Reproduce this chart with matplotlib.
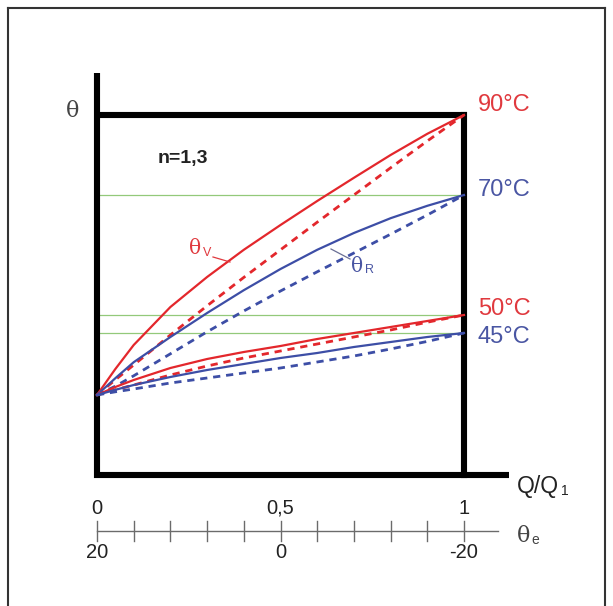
import matplotlib
matplotlib.use("Agg")
import matplotlib.pyplot as plt
from matplotlib.lines import Line2D

# ---------------- data ----------------
# relative heat load Q/Q1 at which the curves were read
q = [0, 0.05, 0.1, 0.2, 0.3, 0.4, 0.5, 0.6, 0.7, 0.8, 0.9, 1.0]
# temperatures on the drawn theta scale
theta_v90_n13 = [20, 26.5, 32.5, 42, 49.5, 56.3, 62.5, 68.5, 74.3, 80, 85.3, 90]
theta_v90_n1 = [20, 23.8, 27.5, 35, 42.3, 49.4, 56.3, 63.2, 70, 76.8, 83.5, 90]
theta_r70_n13 = [20, 24.2, 28.2, 34.5, 40.5, 46.2, 51.5, 56.3, 60.5, 64.2, 67.3, 70]
theta_r70_n1 = [20, 22.2, 24.8, 30.3, 35.8, 41, 46, 50.8, 55.5, 60.2, 65, 70]
theta_v50_n13 = [20, 22, 23.75, 26.75, 29, 30.75, 32.25, 34, 35.5, 37, 38.5, 40]
theta_v50_n1 = [20, 21.3, 22.5, 25, 27.25, 29.25, 31, 32.75, 34.5, 36.25, 38.2, 40]
theta_r45_n13 = [20, 21.3, 22.5, 24.5, 26.25, 27.75, 29.25, 30.5, 32, 33.25, 34.5, 35.5]
theta_r45_n1 = [20, 20.8, 21.5, 23, 24.25, 25.5, 26.75, 28.25, 29.75, 31.5, 33.4, 35.5]

# design levels (positions on the drawn scale) and their labels
level_pos = [90, 70, 40, 35.5]
level_labels = ["90°C", "70°C", "50°C", "45°C"]
green_levels = [70, 40, 35.5]

# bottom scales
q_ticks = [0, 0.5, 1]
q_tick_labels = ["0", "0,5", "1"]
te_tick_labels = ["20", "0", "-20"]
minor_ticks = [i / 10 for i in range(11)]

# ---------------- styling ----------------
RED = "#e3272c"
BLUE = "#3d4ea6"
RED_T = "#e0393e"
BLUE_T = "#4a56a3"
GREEN = "#93c97a"
SANS = ["Liberation Sans", "DejaVu Sans"]
SERIF = ["DejaVu Serif"]

W, H = 613, 606
fig = plt.figure(figsize=(W / 100, H / 100), dpi=100)
fig.patch.set_facecolor("white")

X0, X1 = 97, 464          # pixel x of Q=0 and Q=1
YB, YT = 475, 115         # pixel y of theta=0 and theta=90
ax = fig.add_axes([X0 / W, 1 - YB / H, (X1 - X0) / W, (YB - YT) / H])
ax.set_xlim(0, 1)
ax.set_ylim(0, 90)
ax.axis("off")


def qx(px):
    return (px - X0) / (X1 - X0)


def ty(py):
    return (YB - py) * 90 / (YB - YT)


def ftext(px, py, s, **kw):
    fig.text(px / W, 1 - py / H, s, **kw)


# outer frame of the picture
for xs, ysx in [([8, 8], [8, 606]), ([8, 605], [8, 8]), ([605, 605], [8, 606])]:
    fig.add_artist(Line2D([v / W for v in xs], [1 - v / H for v in ysx],
                          transform=fig.transFigure, color="#333333", lw=1.5))

# green reference lines
for lv in green_levels:
    ax.plot([0, 1], [lv, lv], color=GREEN, lw=0.9, zorder=2)

# curves
LW = 1.6
LWD = 2.0
DASH = (2.6, 2.1)
ax.plot(q, theta_v90_n13, color=RED, lw=LW, zorder=4, clip_on=False)
ax.plot(q, theta_v90_n1, color=RED, lw=LWD, dashes=DASH, zorder=4, clip_on=False)
ax.plot(q, theta_r70_n13, color=BLUE, lw=LW, zorder=4, clip_on=False)
ax.plot(q, theta_r70_n1, color=BLUE, lw=LWD, dashes=DASH, zorder=4, clip_on=False)
ax.plot(q, theta_v50_n13, color=RED, lw=LW, zorder=4, clip_on=False)
ax.plot(q, theta_v50_n1, color=RED, lw=LWD, dashes=DASH, zorder=4, clip_on=False)
ax.plot(q, theta_r45_n13, color=BLUE, lw=LW, zorder=4, clip_on=False)
ax.plot(q, theta_r45_n1, color=BLUE, lw=LWD, dashes=DASH, zorder=4, clip_on=False)

# thick black frame / axes
TW = 4.4
ax.plot([0, 0], [ty(478), ty(73)], color="black", lw=TW, solid_capstyle="butt",
        zorder=3, clip_on=False)
ax.plot([qx(94), qx(509)], [0, 0], color="black", lw=TW, solid_capstyle="butt",
        zorder=3, clip_on=False)
ax.plot([qx(94), qx(467)], [90, 90], color="black", lw=TW, solid_capstyle="butt",
        zorder=3, clip_on=False)
ax.plot([1, 1], [0, 90], color="black", lw=TW, solid_capstyle="projecting",
        zorder=3, clip_on=False)

# theta_e scale below
ys = ty(531)
ax.plot([0, qx(498)], [ys, ys], color="#6b6b6b", lw=1.0, clip_on=False)
for t in minor_ticks:
    ax.plot([t, t], [ty(521), ty(541)], color="#6b6b6b", lw=1.0, clip_on=False)
for t, lab in zip(q_ticks, q_tick_labels):
    ax.text(t, ty(508), lab, ha="center", va="center", fontsize=14.5,
            family=SANS, color="#222222", clip_on=False)
for t, lab in zip(q_ticks, te_tick_labels):
    ax.text(t, ty(553), lab, ha="center", va="center", fontsize=14.5,
            family=SANS, color="#222222", clip_on=False)

# level labels
label_py = [105, 190, 309, 337]
label_cols = [RED_T, BLUE_T, RED_T, BLUE_T]
for lab, py, c in zip(level_labels, label_py, label_cols):
    ftext(478, py, lab, ha="left", va="center", fontsize=17, family=SANS, color=c)

# axis titles
ftext(73, 111, "θ", ha="center", va="center", fontsize=16, family=SERIF, color="#444444")
ftext(517, 486, "Q/Q", ha="left", va="center", fontsize=16.5, family=SANS, color="#222222")
ftext(561, 491, "1", ha="left", va="center", fontsize=10, family=SANS, color="#222222")
ftext(517, 536, "θ", ha="left", va="center", fontsize=16, family=SERIF, color="#444444")
ftext(531, 540, "e", ha="left", va="center", fontsize=10, family=SANS, color="#444444")

# n value
ftext(183, 159, "n=1,3", ha="center", va="center", fontsize=14, weight="bold",
      family=SANS, color="#222222")

# curve labels with leaders
ftext(189, 249, "θ", ha="left", va="center", fontsize=14.5, family=SERIF, color=RED_T)
ftext(203, 253, "V", ha="left", va="center", fontsize=9, family=SANS, color=RED_T)
fig.add_artist(Line2D([213 / W, 230 / W], [1 - 257 / H, 1 - 262 / H],
                      transform=fig.transFigure, color=RED_T, lw=0.9))
ftext(351, 266, "θ", ha="left", va="center", fontsize=14.5, family=SERIF, color=BLUE_T)
ftext(365, 270, "R", ha="left", va="center", fontsize=9, family=SANS, color=BLUE_T)
fig.add_artist(Line2D([331 / W, 350 / W], [1 - 249 / H, 1 - 259 / H],
                      transform=fig.transFigure, color="#6a6f95", lw=0.9))

fig.savefig("out.png", dpi=100, facecolor="white")
